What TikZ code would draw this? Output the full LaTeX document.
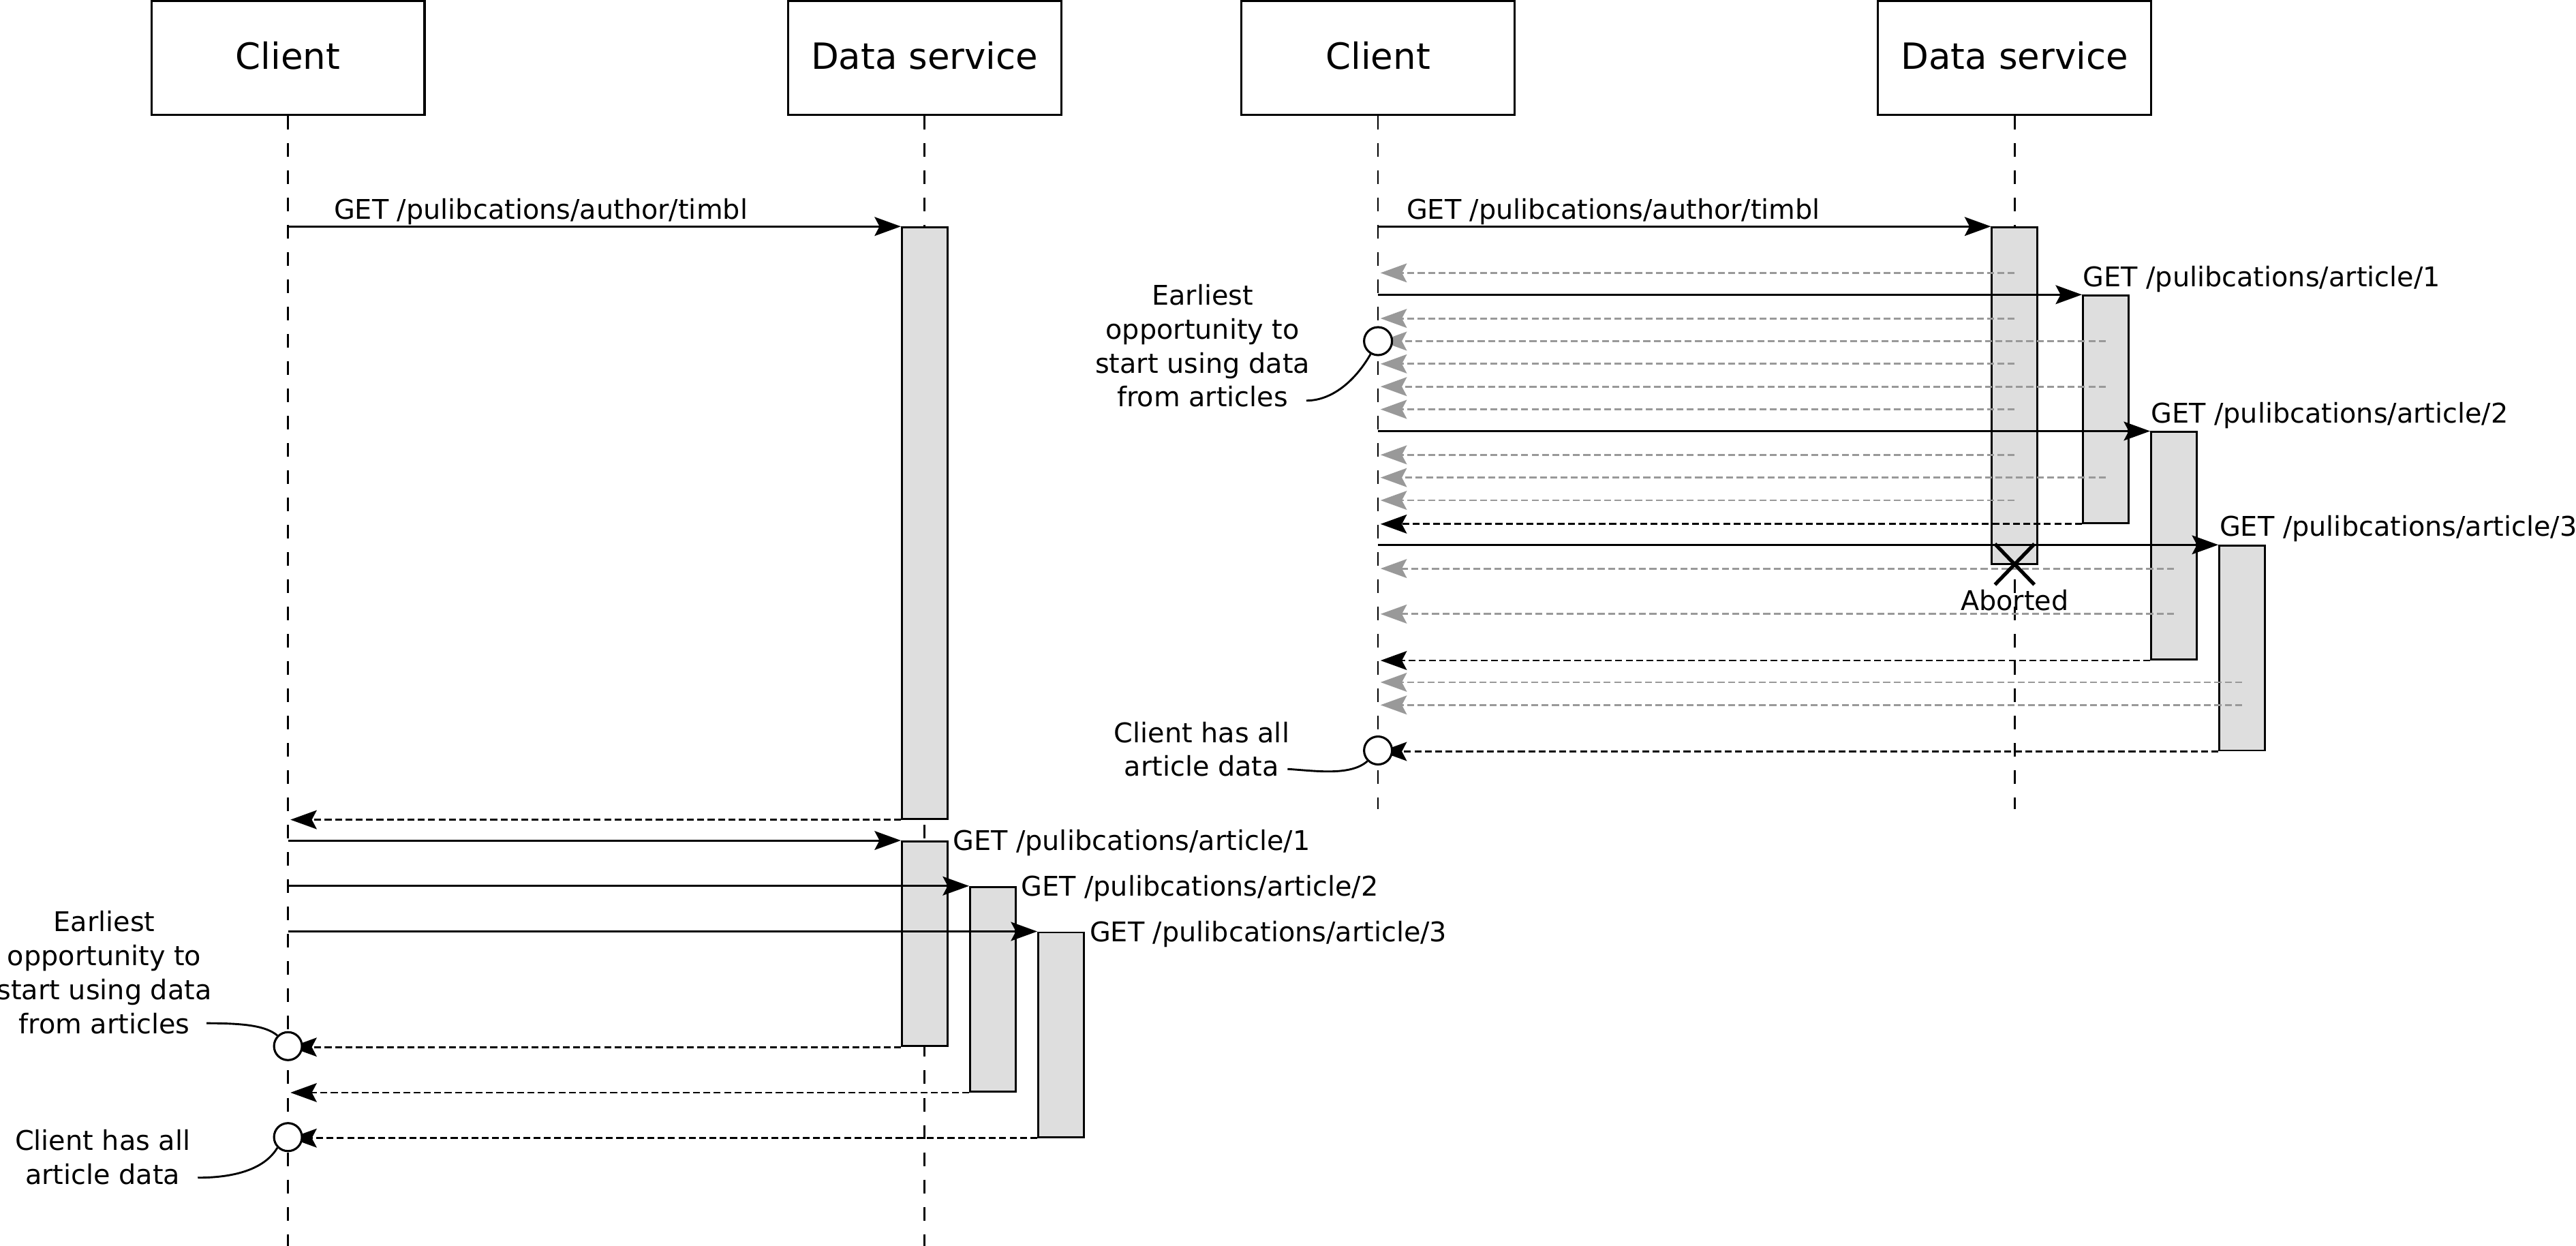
\documentclass[tikz,border=0pt]{standalone}
\usepackage{fontspec}
\setmainfont{DejaVu Sans}
\usetikzlibrary{arrows.meta,shapes.misc}
\definecolor{barfill}{RGB}{222,222,222}
\definecolor{retgray}{RGB}{153,153,153}
\begin{document}
\begin{tikzpicture}[x=1pt,y=-1pt,
  actor/.style={draw,line width=1.3pt,minimum width=166.3pt,minimum height=69.1pt,inner sep=0pt,
    font=\fontsize{22}{26}\selectfont,text height=16.7pt,text depth=2.8pt},
  lifeline/.style={line width=1.1pt,dash pattern=on 8.3pt off 8.3pt},
  activation/.style={draw,fill=barfill,line width=1.2pt,minimum width=27.7pt,inner sep=0pt},
  tipstyle/.style={-{Stealth[length=16pt,width=11.5pt,inset=3pt]}},
  req/.style={line width=1.2pt,tipstyle},
  ret/.style={line width=1.2pt,dash pattern=on 4.2pt off 2.1pt,tipstyle},
  partial/.style={ret,color=retgray},
  lbl/.style={font=\fontsize{16.5}{20.7}\selectfont,inner sep=0pt},
  notetext/.style={lbl,align=center,anchor=north},
  marker/.style={circle,draw,fill=white,line width=1.3pt,minimum size=17pt,inner sep=0pt},
  note/.style={line width=1.2pt},
  abort/.style={cross out,draw,line width=2.2pt,minimum width=21.8pt,minimum height=22.6pt,inner sep=0pt}
]
\useasboundingbox (0,0) rectangle (1568,758.2);

% ---------------- actors ----------------
\node[actor] (cL) at (175.3,35.25) {Client};
\node[actor] (dL) at (562.8,35.25) {Data service};
\node[actor] (cR) at (838.8,35.25) {Client};
\node[actor] (dR) at (1226.3,35.25) {Data service};

\coordinate (cLend) at (175.3,758.2);
\coordinate (dLend) at (562.8,758.2);
\coordinate (cRend) at (838.8,492.3);
\coordinate (dRend) at (1226.3,492.3);

\draw[lifeline] (cL.south) -- (cLend);
\draw[lifeline] (dL.south) -- (dLend);
\draw[lifeline] (cR.south) -- (cRend);
\draw[lifeline] (dR.south) -- (dRend);

% ---------------- left: sequential ----------------
\node[activation,minimum height=359.84pt] (bA) at (562.8,318.32) {};
\node[activation,minimum height=124.56pt] (bB) at (562.8,574.36) {};
\node[activation,minimum height=124.56pt] (bC) at (604.3,602.04) {};
\node[activation,minimum height=124.56pt] (bD) at (645.8,629.72) {};

\draw[req] (cL |- bA.north) -- (bA.north west);
\node[lbl,anchor=base west] (tA) at (203.1,133.4) {GET /pulibcations/author/timbl};
\draw[ret] (bA.south west) -- ([xshift=1.5pt]cL |- bA.south);

\draw[req] (cL |- bB.north) -- (bB.north west);
\node[lbl,anchor=base west] (tB) at (579.8,517.5) {GET /pulibcations/article/1};
\draw[req] (cL |- bC.north) -- (bC.north west);
\node[lbl,anchor=base west] (tC) at (621.3,545.3) {GET /pulibcations/article/2};
\draw[req] (cL |- bD.north) -- (bD.north west);
\node[lbl,anchor=base west] (tD) at (663.1,573.0) {GET /pulibcations/article/3};

\draw[ret] (bB.south west) -- ([xshift=1.5pt]cL |- bB.south);
\draw[ret] (bC.south west) -- ([xshift=1.5pt]cL |- bC.south);
\draw[ret] (bD.south west) -- ([xshift=1.5pt]cL |- bD.south);

\node[marker] (eL) at (175.3,636.64) {};
\node[marker] (aL) at (175.3,692.0) {};

\node[notetext] (neL) at (63.5,554.2) {Earliest\\opportunity to\\start using data\\from articles};
\coordinate (neLs) at (125.7,622.7);
\draw[note] (neLs) .. controls (150,622.7) and (162,624.5) .. (eL.135);

\node[notetext] (naL) at (62.5,687.1) {Client has all\\article data};
\coordinate (naLs) at (120.4,716.7);
\draw[note] (naLs) .. controls (146,716.7) and (162,710) .. (aL.225);

% ---------------- right: parallel ----------------
\node[activation,minimum height=205pt] (rA) at (1226.3,240.9) {};
\node[activation,minimum height=138.4pt] (rB) at (1281.7,249.12) {};
\node[activation,minimum height=138.4pt] (rC) at (1323.2,332.16) {};
\node[activation,minimum height=124.56pt] (rD) at (1364.7,394.44) {};

\draw[req] (cR |- rA.north) -- (rA.north west);
\node[lbl,anchor=base west] (sA) at (856,133.4) {GET /pulibcations/author/timbl};
\draw[req] (cR |- rB.north) -- (rB.north west);
\node[lbl,anchor=base west] (sB) at (1267.7,174.6) {GET /pulibcations/article/1};
\draw[req] (cR |- rC.north) -- (rC.north west);
\node[lbl,anchor=base west] (sC) at (1309.1,257.2) {GET /pulibcations/article/2};
\draw[req] (cR |- rD.north) -- (rD.north west);
\node[lbl,anchor=base west] (sD) at (1350.9,326.3) {GET /pulibcations/article/3};

\foreach \k/\src in {12/rA,14/rA,15/rB,16/rA,17/rB,18/rA,20/rA,21/rB,22/rA,25/rC,27/rC,30/rD,31/rD}{
  \path (\src.center |- 0,{\k*13.84}) coordinate (g\k);
  \draw[partial] (g\k) -- ([xshift=1.5pt]g\k -| cR);
}

\draw[ret] (rB.south west) -- ([xshift=1.5pt]cR |- rB.south);
\draw[ret] (rC.south west) -- ([xshift=1.5pt]cR |- rC.south);
\draw[ret] (rD.south west) -- ([xshift=1.5pt]cR |- rD.south);

\node[abort] (xA) at (1226.3,343.4) {};
\node[lbl,anchor=base] (ab) at (1226.3,371.3) {Aborted};

\node[marker] (eR) at (838.8,207.6) {};
\node[marker] (aR) at (838.8,456.72) {};

\node[notetext] (neR) at (732,172.8) {Earliest\\opportunity to\\start using data\\from articles};
\coordinate (neRs) at (795.1,243.8);
\draw[note] (neRs) .. controls (812,243.8) and (826,230) .. (eR.240);

\node[notetext] (naR) at (731.5,439) {Client has all\\article data};
\coordinate (naRs) at (783.7,468);
\draw[note] (naRs) .. controls (800,469) and (822,472.5) .. (aR.225);
\end{tikzpicture}
\end{document}
